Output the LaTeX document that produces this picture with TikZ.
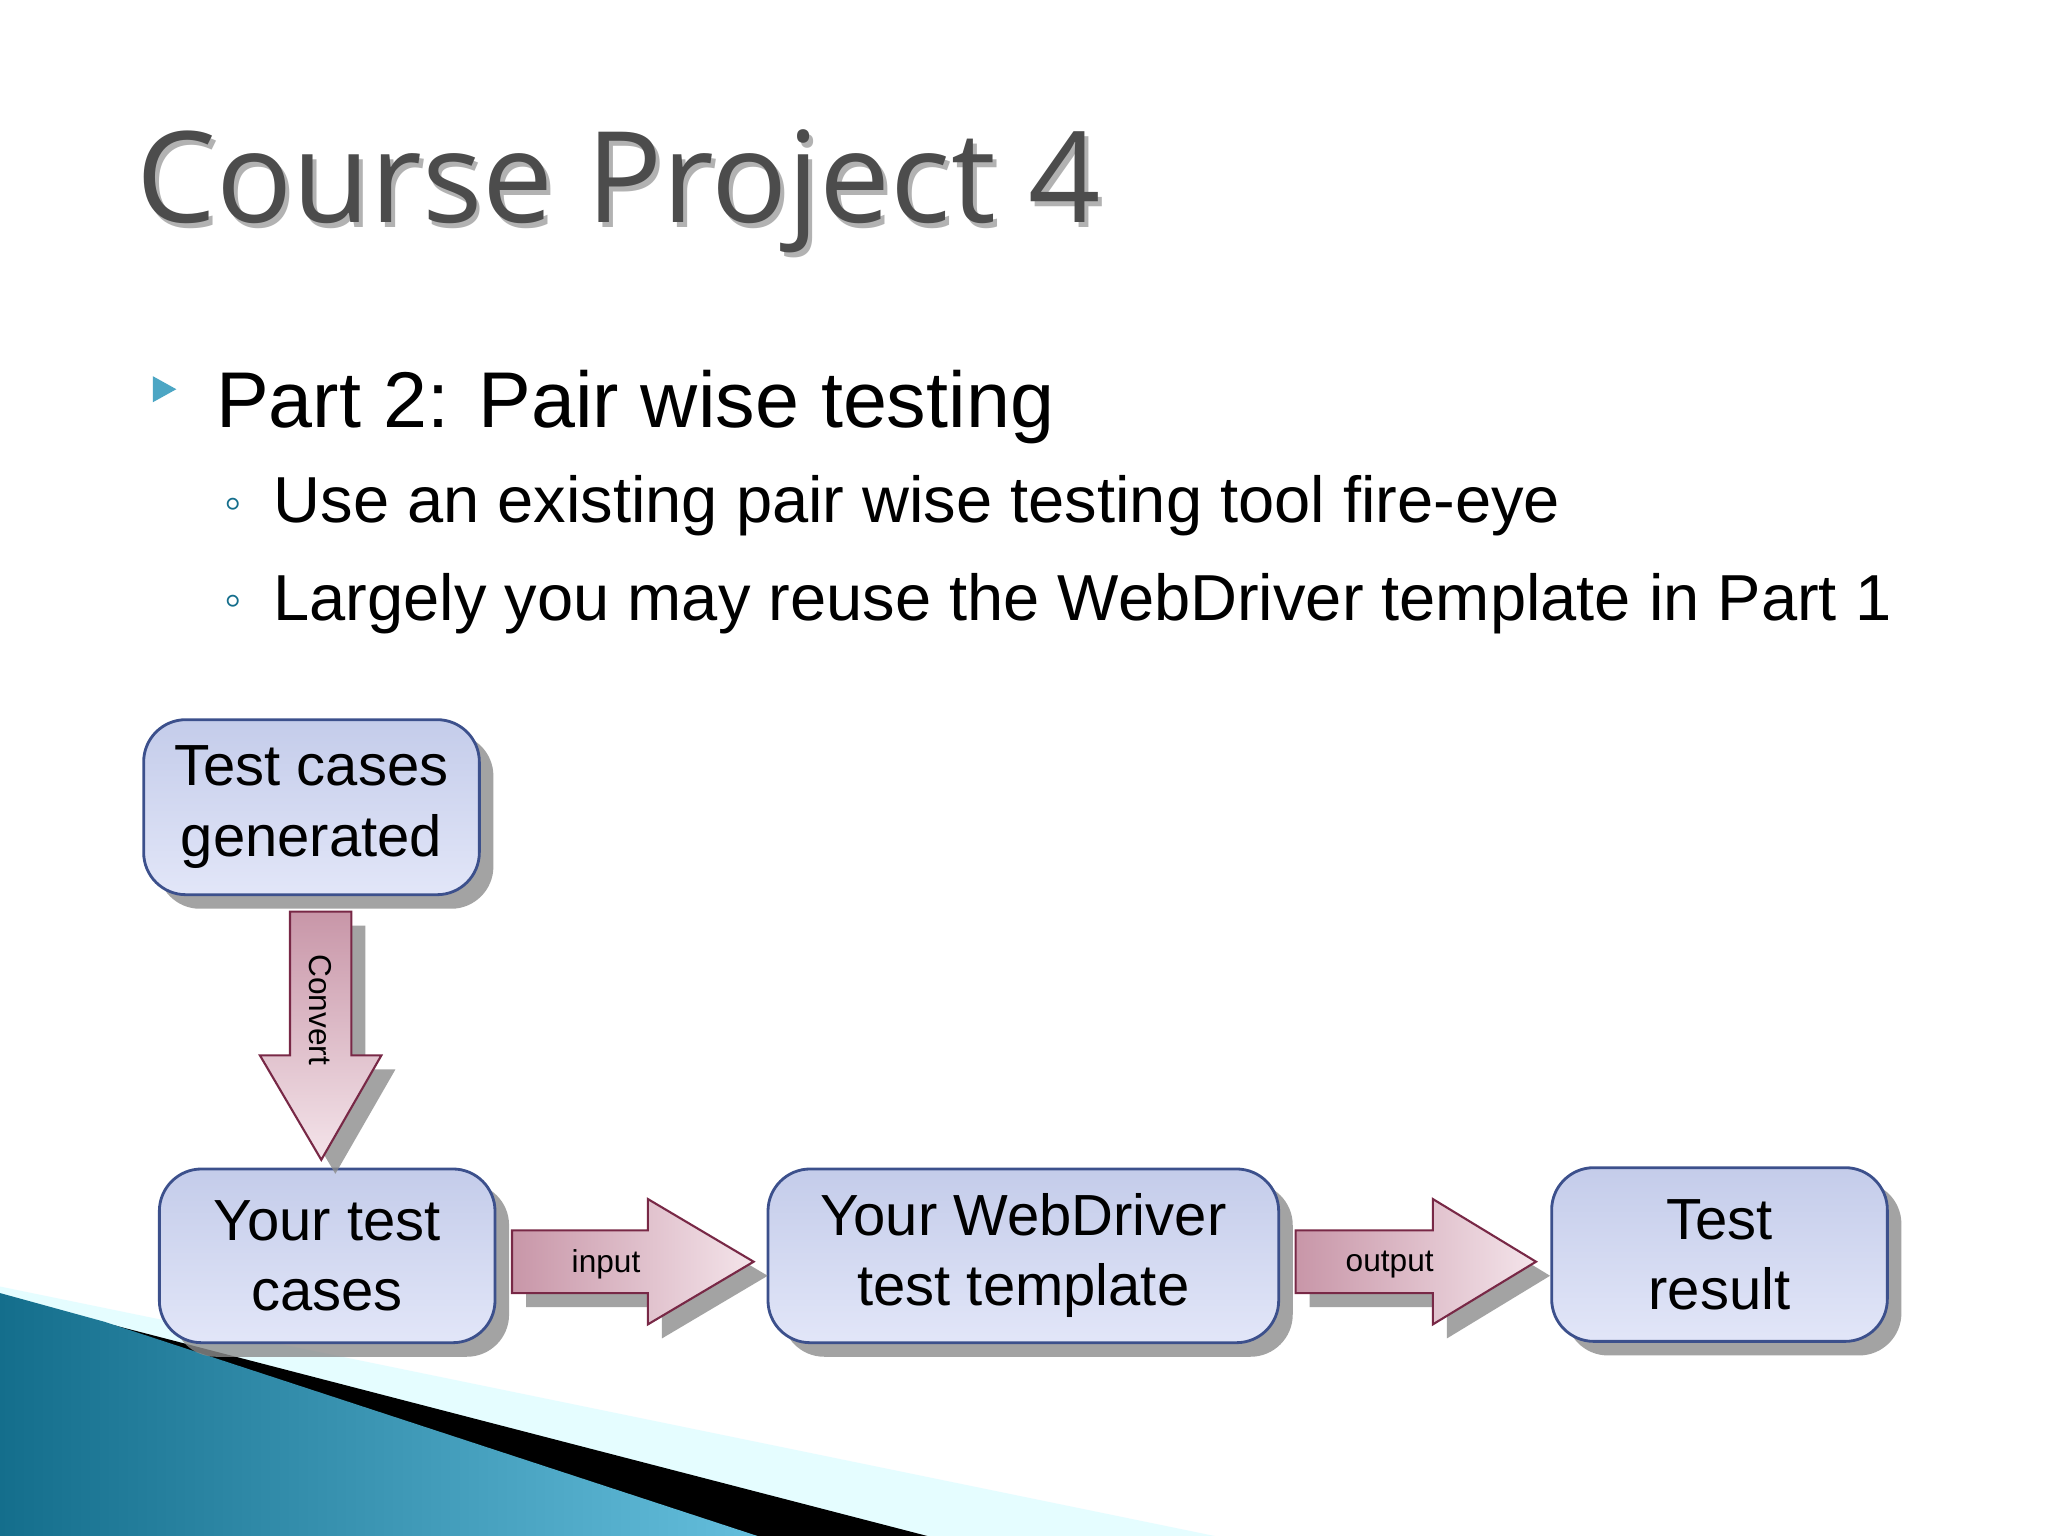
\documentclass[tikz,border=0pt]{standalone}
\usepackage{fontspec}
\setmainfont{Liberation Sans}
\newfontfamily\titlefont{Open Sans}
\usetikzlibrary{shadows}
\definecolor{boxtop}{RGB}{196,204,234}
\definecolor{boxbot}{RGB}{226,230,248}
\definecolor{boxline}{RGB}{60,80,140}
\definecolor{arrtop}{RGB}{200,150,168}
\definecolor{arrbot}{RGB}{244,228,234}
\definecolor{arrline}{RGB}{120,40,70}
\definecolor{teal1}{RGB}{20,110,140}
\definecolor{teal2}{RGB}{100,190,220}
\begin{document}
\begin{tikzpicture}[x=0.01306cm,y=-0.01306cm,
  box/.style={draw=boxline,line width=0.8pt,rounded corners=12pt,top color=boxtop,bottom color=boxbot,
    drop shadow={shadow xshift=4pt,shadow yshift=-4pt,fill=black!45,opacity=0.8},
    font=\fontsize{16.5}{20}\selectfont,align=center,inner sep=0pt},
  arr/.style={draw=arrline,line width=0.6pt,left color=arrtop,right color=arrbot,
    drop shadow={shadow xshift=4pt,shadow yshift=-4pt,fill=black!45,opacity=0.8}},
  darr/.style={draw=arrline,line width=0.6pt,top color=arrtop,bottom color=arrbot,
    drop shadow={shadow xshift=4pt,shadow yshift=-4pt,fill=black!45,opacity=0.8}},
  lbl/.style={font=\fontsize{9}{11}\selectfont}]
\useasboundingbox (0,0) rectangle (1568,1176);
\fill[white] (0,0) rectangle (1568,1176);
% bottom-left decoration
\fill[blue!8!cyan!10] (0,985)--(930,1176)--(0,1176)--cycle;
\fill[black] (0,992)--(710,1176)--(0,1176)--cycle;
\shade[left color=teal1,right color=teal2] (0,990)--(80,1012)--(580,1176)--(0,1176)--cycle;
% title
\node[anchor=base west,text=black!30,font=\titlefont\fontsize{36}{40}\selectfont] (ts) at (98,174) {Course Project 4};
\node[anchor=base west,text=black!70,font=\titlefont\fontsize{36}{40}\selectfont] (title) at (95,170) {Course Project 4};
% bullets
\fill[teal2!70!teal1] (117,288)--(135,298)--(117,308)--cycle;
\node[anchor=base west,font=\fontsize{22.5}{26}\selectfont] (b1) at (156,327) {Part 2: Pair wise testing};
\node[anchor=base west,font=\fontsize{14}{16}\selectfont,text=teal1] (s1) at (162,398) {◦};
\node[anchor=base west,font=\fontsize{18.5}{22}\selectfont] (b2) at (200,400) {Use an existing pair wise testing tool fire-eye};
\node[anchor=base west,font=\fontsize{14}{16}\selectfont,text=teal1] (s2) at (162,472) {◦};
\node[anchor=base west,font=\fontsize{18.5}{22}\selectfont] (b3) at (200,475) {Largely you may reuse the WebDriver template in Part 1};
% boxes
\node[box,minimum width=257*0.01306cm,minimum height=134*0.01306cm] (tc) at (238.5,618) {Test cases\\generated};
\node[box,minimum width=257*0.01306cm,minimum height=133*0.01306cm] (yt) at (250.5,961.5) {Your test\\cases};
\node[box,minimum width=391*0.01306cm,minimum height=133*0.01306cm] (wd) at (783.5,961.5) {Your WebDriver\\test template};
\node[box,minimum width=257*0.01306cm,minimum height=133*0.01306cm] (tr) at (1316.5,960.5) {Test\\result};
% arrows
\path[darr] (222,698)--(269,698)--(269,808)--(292,808)--(246,888)--(199,808)--(222,808)--cycle;
\node[lbl,rotate=-90] (cv) at (245,773) {Convert};
\path[arr] (392,942)--(496,942)--(496,918)--(577,966)--(496,1014)--(496,990)--(392,990)--cycle;
\node[lbl] (in) at (464,968) {input};
\path[arr] (992,942)--(1097,942)--(1097,918)--(1176,966)--(1097,1014)--(1097,990)--(992,990)--cycle;
\node[lbl] (out) at (1064,968) {output};
\end{tikzpicture}
\end{document}
